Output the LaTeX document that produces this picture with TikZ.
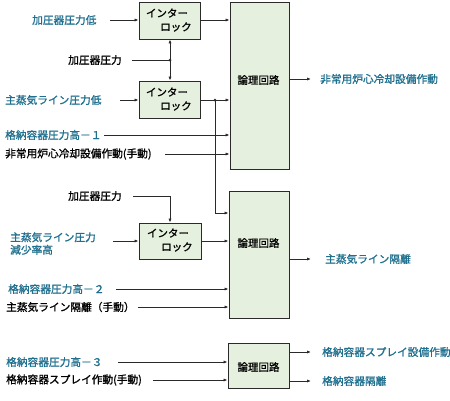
\documentclass[tikz,border=0pt]{standalone}
\usepackage{fontspec}
\setmainfont{Noto Sans CJK JP}[FakeBold=1.2]
\usetikzlibrary{arrows.meta}
\definecolor{lblue}{HTML}{1F6F8E}
\definecolor{boxfill}{HTML}{E6F0DE}
\definecolor{edge}{HTML}{2A2A2A}
\tikzset{
  box/.style={draw=edge, line width=0.9pt, fill=boxfill, inner sep=0pt},
  ilock/.style={box, minimum width=61pt, minimum height=37pt},
  lbl/.style={anchor=west, inner sep=0pt, font=\fontsize{10.7}{12.5}\selectfont},
  blbl/.style={lbl, text=lblue},
  btxt/.style={inner sep=0pt, font=\fontsize{10.5}{12}\selectfont, align=center},
  arr/.style={draw=edge, line width=0.8pt, -{Latex[length=4pt,width=3.2pt]}},
  ln/.style={draw=edge, line width=0.8pt},
  dot/.style={circle, fill=edge, inner sep=0pt, minimum size=3pt}
}
\begin{document}
\begin{tikzpicture}[x=1pt,y=-1pt]
\useasboundingbox (0,0) rectangle (450,400);
% boxes
\node[ilock] (ib1) at (169.5,20.5) {};
\node[btxt] at (167,13) {インター};
\node[btxt] at (176,27) {ロック};
\node[ilock] (ib2) at (169.5,99.5) {};
\node[btxt] at (167,92) {インター};
\node[btxt] at (176,106) {ロック};
\node[ilock, minimum width=62pt, minimum height=36pt] (ib3) at (170,241) {};
\node[btxt] at (168,233) {インター};
\node[btxt] at (177,247) {ロック};
\node[box, minimum width=59pt, minimum height=167pt] (lb1) at (259.5,85.5) {};
\node[btxt] at (258.5,80) {論理回路};
\node[box, minimum width=60pt, minimum height=127pt] (lb2) at (259,254.5) {};
\node[btxt] at (258.5,243) {論理回路};
\node[box, minimum width=61pt, minimum height=45pt] (lb3) at (258.5,365.5) {};
\node[btxt] at (258.5,367) {論理回路};
% labels
\node[blbl] (t1) at (32,20) {加圧器圧力低};
\node[lbl] (t2) at (68,60) {加圧器圧力};
\node[blbl] (t3) at (5,100) {主蒸気ライン圧力低};
\node[blbl] (t4) at (5,135) {格納容器圧力高－１};
\node[lbl] (t5) at (5,154) {非常用炉心冷却設備作動(手動)};
\node[blbl] (o1) at (320,79) {非常用炉心冷却設備作動};
\node[lbl] (t6) at (68,196) {加圧器圧力};
\node[blbl, align=left] (t7) at (10,243.5) {主蒸気ライン圧力\\減少率高};
\node[blbl] (t8) at (8,289) {格納容器圧力高－２};
\node[lbl] (t9) at (6,307) {主蒸気ライン隔離（手動）};
\node[blbl] (o2) at (325,259) {主蒸気ライン隔離};
\node[blbl] (t10) at (6,362) {格納容器圧力高－３};
\node[lbl] (t11) at (6,380) {格納容器スプレイ作動(手動)};
\node[blbl] (o3) at (322,352) {格納容器スプレイ設備作動};
\node[blbl] (o4) at (322,381) {格納容器隔離};
% start coordinates
\coordinate (s1) at (110,20);
\coordinate (s2) at (132,60);
\coordinate (j1) at (170,60);
\coordinate (s3) at (120,100);
\coordinate (j2) at (215,100);
\coordinate (s4) at (104,135);
\coordinate (s5) at (165,154);
\coordinate (s6) at (133,196);
\coordinate (s7) at (113,241);
\coordinate (s8) at (116,289);
\coordinate (s9) at (138,307);
\coordinate (s10) at (118,362);
\coordinate (s11) at (153,380);
\coordinate (e1) at (311,79);
\coordinate (e2) at (311,259);
\coordinate (e3) at (311,352);
\coordinate (e4) at (311,381);
% connectors
\draw[arr] (s1) -- (s1 -| ib1.west);
\draw[arr] (ib1.east |- s1) -- (s1 -| lb1.west);
\draw[ln] (s2) -- (j1);
\draw[arr] (j1) -- (j1 |- ib1.south);
\draw[arr] (j1) -- (j1 |- ib2.north);
\node[dot] at (j1) {};
\draw[arr] (s3) -- (s3 -| ib2.west);
\draw[arr] (ib2.east |- s3) -- (s3 -| lb1.west);
\node[dot] at (j2) {};
\draw[arr] (j2) |- (lb2.west |- 0,213);
\draw[arr] (s4) -- (s4 -| lb1.west);
\draw[arr] (s5) -- (s5 -| lb1.west);
\draw[arr] (lb1.east |- e1) -- (e1);
\draw[arr] (s6) -| (ib3.north);
\draw[arr] (s7) -- (s7 -| ib3.west);
\draw[arr] (ib3.east |- s7) -- (s7 -| lb2.west);
\draw[arr] (s8) -- (s8 -| lb2.west);
\draw[arr] (s9) -- (s9 -| lb2.west);
\draw[arr] (lb2.east |- e2) -- (e2);
\draw[arr] (s10) -- (s10 -| lb3.west);
\draw[arr] (s11) -- (s11 -| lb3.west);
\draw[arr] (lb3.east |- e3) -- (e3);
\draw[arr] (lb3.east |- e4) -- (e4);
\end{tikzpicture}
\end{document}
